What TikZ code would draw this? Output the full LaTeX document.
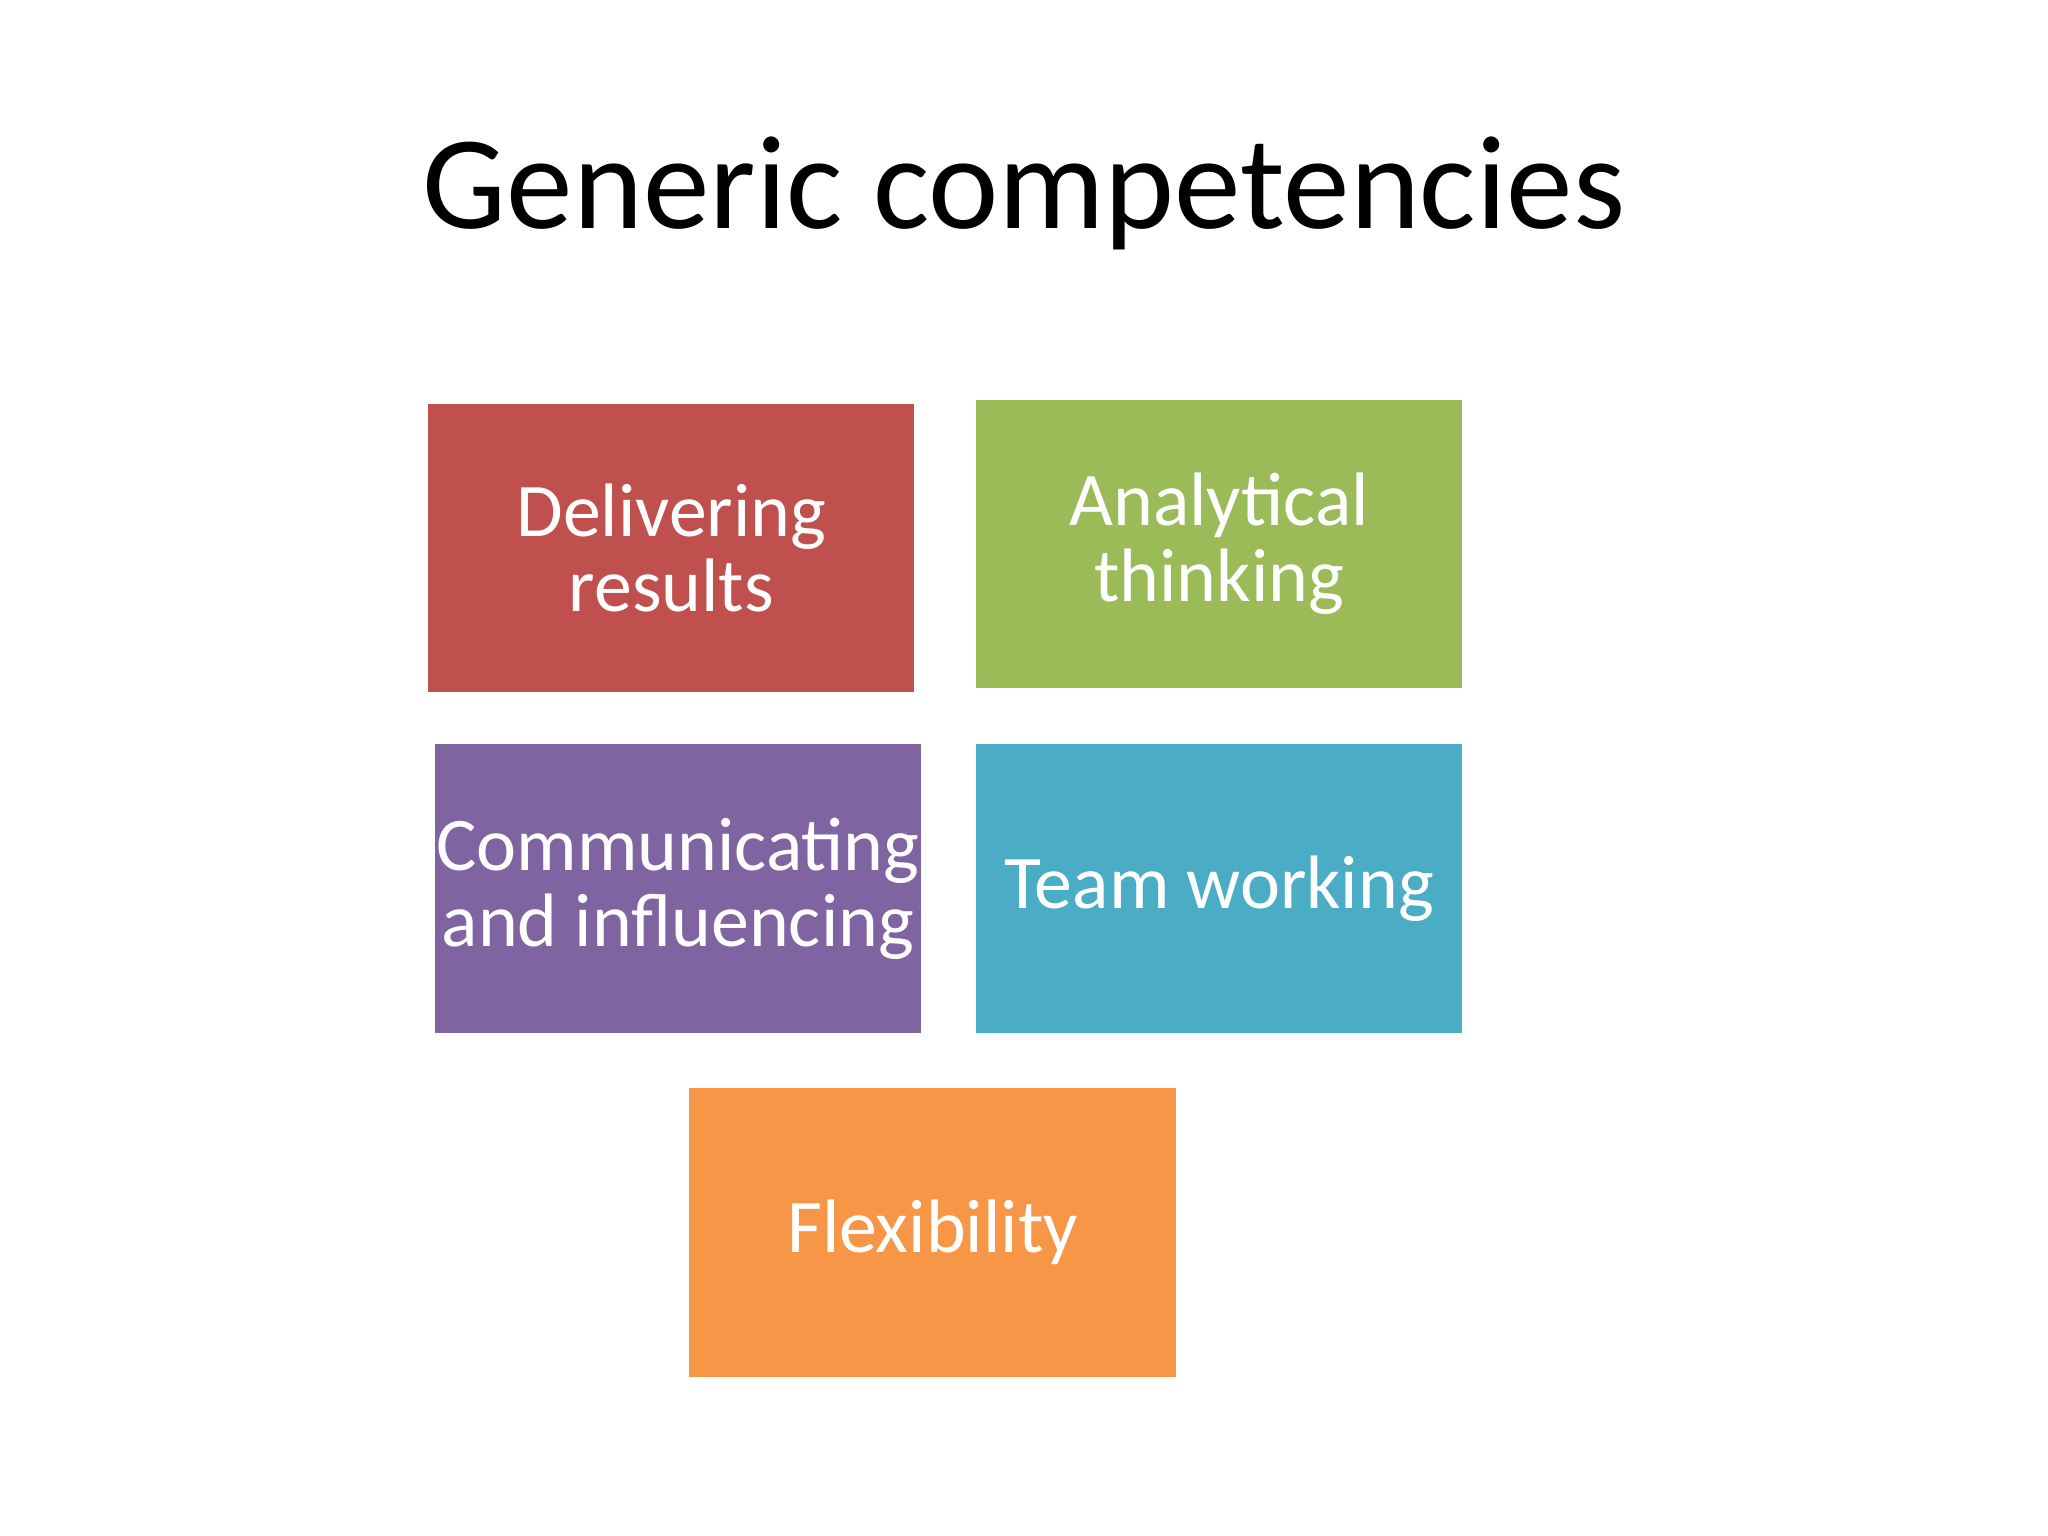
\documentclass[tikz,border=0pt]{standalone}
\usepackage{fontspec}
\setmainfont{Carlito}
\definecolor{cred}{HTML}{C0504D}
\definecolor{cgreen}{HTML}{9BBB59}
\definecolor{cpurple}{HTML}{8064A2}
\definecolor{cblue}{HTML}{4BACC6}
\definecolor{corange}{HTML}{F79646}
\begin{document}
\begin{tikzpicture}[x=0.01cm,y=-0.01cm,
  cbox/.style={minimum width=3.72cm,minimum height=2.21cm,inner sep=0pt,text=white,align=center,font=\fontsize{16.5}{16.5}\selectfont}]
\useasboundingbox (0,0) rectangle (1568,1176);
\fill[white] (0,0) rectangle (1568,1176);
\node (title) at (784,148) {\fontsize{29}{30}\selectfont Generic competencies};
\node[cbox,fill=cred] (a) at (514,419.5) {Delivering\\results};
\node[cbox,fill=cgreen] (b) at (933.5,416.5) {Analytical\\thinking};
\node[cbox,fill=cpurple] (c) at (519,680.5) {Communicating\\and influencing};
\node[cbox,fill=cblue] (d) at (933.5,680.5) {Team working};
\node[cbox,fill=corange] (e) at (714,943.5) {Flexibility};
\end{tikzpicture}
\end{document}
